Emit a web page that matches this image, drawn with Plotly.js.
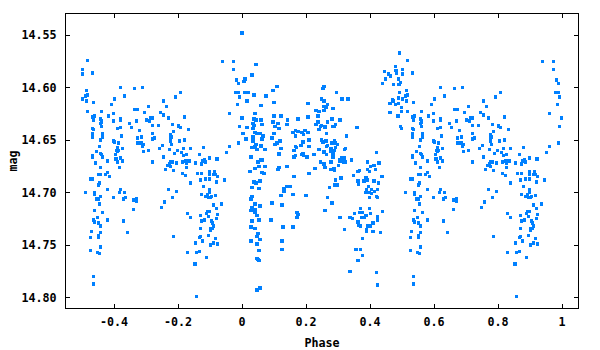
<!DOCTYPE html>
<html>
<head>
<meta charset="utf-8">
<script src="https://cdn.plot.ly/plotly-3.0.1.min.js"></script>
<style>
html,body{margin:0;padding:0;background:#fff}
#chart .point{shape-rendering:crispEdges}
</style>
</head>
<body>
<div id="chart" style="width:600px;height:350px"></div>
<script>
const phaseA=[0,.044,.009,.006,.031,.009,.015,.019,.015,.037,.075,.097,.109,.100,.059,.041,.100,.122,0,.037,.044,.059,.034,.037,.062,.097,.112,.143,.140,.103,.115,.015,.034,.041,.047,.053,.056,.003,.100,.066,.034,.012,.062,.094,.034,.044,.059,.041,.031,.037,.059,.047,.072,.103,.109,.119,.122,.115,.115,.028,.059,.062];
const magA=[14.548,14.578,14.592,14.594,14.588,14.605,14.605,14.605,14.613,14.607,14.608,14.603,14.599,14.614,14.617,14.625,14.627,14.627,14.629,14.630,14.631,14.631,14.634,14.636,14.635,14.633,14.634,14.631,14.635,14.637,14.639,14.638,14.639,14.643,14.644,14.644,14.644,14.644,14.644,14.646,14.647,14.649,14.649,14.648,14.651,14.654,14.655,14.656,14.657,14.657,14.656,14.659,14.659,14.654,14.653,14.651,14.658,14.663,14.664,14.666,14.669,14.669];

const phaseB=[.256,.253,.296,.249,.256,.312,.331,.206,.268,.256,.262,.284,.231,.240,.256,.237,.206,.175,.281,.306,.237,.268,.231,.249,.246,.259,.259,.284,.287,.293,.359,.240,.197,.168,.175,.159,.187,.206,.193,.168,.265,.327,.209,.249,.253,.262,.290,.190,.184,.209,.168,.171,.281,.293,.299,.268,.265,.293,.278,.324,.321,.240,.162,.287,.256,.256,.278,.190,.225,.265,.284,.284,.168,.162,.187,.193,.203,.312,.318,.321,.306,.312,.318,.343,.421];
const magB=[14.599,14.601,14.605,14.611,14.613,14.611,14.611,14.615,14.616,14.618,14.619,14.620,14.622,14.623,14.622,14.627,14.628,14.630,14.630,14.631,14.633,14.633,14.635,14.636,14.637,14.637,14.638,14.637,14.637,14.635,14.638,14.640,14.641,14.641,14.642,14.643,14.643,14.643,14.645,14.646,14.644,14.646,14.650,14.650,14.652,14.651,14.651,14.652,14.655,14.656,14.656,14.657,14.653,14.653,14.654,14.655,14.656,14.657,14.658,14.658,14.659,14.659,14.660,14.660,14.661,14.662,14.661,14.663,14.664,14.664,14.663,14.666,14.665,14.666,14.664,14.665,14.666,14.667,14.667,14.667,14.669,14.669,14.669,14.669,14.662];

const phaseC=[.493,.480,.446,.480,.483,.483,.458,.465,.449,.489,.440,.474,.489,.493,.496,.493,.489,.471,.474,.462,.480,.489,.499,.462,.499,.487,.496,.499];
const magC=[14.567,14.580,14.585,14.584,14.584,14.586,14.587,14.589,14.592,14.592,14.596,14.597,14.597,14.597,14.595,14.605,14.610,14.612,14.613,14.615,14.616,14.615,14.619,14.624,14.623,14.627,14.637,14.639];

const phaseD=[.050,.053,.072,.041,.025,.062,.069,.056,.037,.044,.031,.053,.028,.031,.041,.056,.031,.028,.041,.041,.047,.031,.053,.028,.041,.050,.047,.056,.028,.047,.053,.047,.050,.053,.056,.047];
const magD=[14.671,14.675,14.675,14.677,14.680,14.681,14.682,14.689,14.690,14.691,14.695,14.696,14.706,14.704,14.711,14.713,14.714,14.717,14.716,14.719,14.722,14.727,14.726,14.733,14.734,14.739,14.742,14.745,14.746,14.749,14.755,14.763,14.764,14.765,14.791,14.793];

const phaseE=[.115,.112,.140,.162,.140,.150,.131,.131,.122,.159,.094,.125,.172,.175,.172,.090,.128,.159,.125,.125,.200,.209,.228,.246,.256,.259,.278,.278,.287,.290,.302,.306,.318,.324,.274,.290,.299,.293,.309,.268,.281,.259,.306,.337,.346,.321,.349,.368,.362,.362,.365,.381,.387,.393,.412,.396,.427,.437,.393,.393,.399,.402,.412,.418,.427,.430,.390,.405,.399,.387,.415,.405,.424,.421,.424,.399,.371,.399,.440,.352,.368,.377,.402,.387,.374,.381,.424,.424,.362,.409,.365,.371,.393,.402,.390,.390,.409,.433,.377,.356,.371,.377,.362,.337,.421,.424];
const magE=[14.676,14.678,14.675,14.685,14.694,14.694,14.696,14.699,14.703,14.702,14.710,14.712,14.719,14.721,14.724,14.726,14.733,14.733,14.746,14.754,14.703,14.682,14.677,14.671,14.673,14.676,14.671,14.678,14.677,14.679,14.674,14.670,14.671,14.671,14.695,14.693,14.693,14.688,14.686,14.705,14.710,14.717,14.724,14.724,14.725,14.735,14.684,14.679,14.680,14.689,14.692,14.689,14.686,14.688,14.689,14.694,14.691,14.685,14.671,14.678,14.680,14.675,14.674,14.678,14.672,14.672,14.697,14.697,14.700,14.700,14.699,14.701,14.697,14.704,14.705,14.705,14.715,14.715,14.718,14.720,14.719,14.719,14.720,14.722,14.724,14.724,14.723,14.726,14.728,14.729,14.731,14.732,14.732,14.732,14.735,14.737,14.737,14.738,14.744,14.754,14.754,14.760,14.765,14.775,14.776,14.788];

const phaseF=[.518,.502,.502,.533,.514,.518,.511,.502,.514,.536,.518,.539,.533,.536,.558,.561,.558,.561,.561,.561,.533,.536,.533,.533,.564,.564,.564,.558,.555,.546,.533,.533,.558,.561,.564,.580,.599,.592,.602,.583,.599,.620,.633,.664,.689,.620,.620,.611,.620,.624,.599,.602,.614,.611,.614,.611,.627,.605,.608,.620,.627,.606,.649,.655,.670,.664,.673,.695,.708,.680,.673,.686,.673,.680,.686,.692,.689,.692,.708,.702,.711,.714,.720,.720,.739,.720,.727,.720,.752,.742,.755,.745,.755,.770,.764,.755,.792,.808,.783,.801,.801,.808,.820,.833,.786,.776,.776,.780,.776,.776,.780,.804,.820,.773,.798,.811,.789,.817,.839,.817,.826,.867,.879,.883,.876,.898,.920,.923,.823,.836,.951,.961,.989,.961,.998,.992,.986,.992,.979,.982,.989,.989,.982,.939,.973,.973];
const magF=[14.574,14.583,14.587,14.586,14.603,14.607,14.608,14.611,14.613,14.614,14.623,14.627,14.628,14.631,14.630,14.632,14.634,14.633,14.637,14.623,14.639,14.640,14.644,14.647,14.644,14.645,14.647,14.650,14.656,14.661,14.665,14.666,14.663,14.664,14.666,14.670,14.625,14.616,14.611,14.627,14.632,14.600,14.608,14.601,14.600,14.630,14.631,14.639,14.638,14.646,14.651,14.652,14.653,14.657,14.660,14.661,14.658,14.664,14.660,14.667,14.670,14.668,14.634,14.638,14.632,14.621,14.621,14.624,14.618,14.641,14.648,14.647,14.653,14.653,14.653,14.654,14.656,14.661,14.660,14.631,14.632,14.629,14.629,14.636,14.636,14.644,14.648,14.649,14.655,14.658,14.666,14.624,14.626,14.629,14.618,14.613,14.609,14.605,14.635,14.636,14.637,14.638,14.628,14.640,14.642,14.645,14.647,14.647,14.649,14.651,14.654,14.651,14.650,14.659,14.660,14.662,14.663,14.658,14.658,14.665,14.664,14.664,14.657,14.669,14.670,14.667,14.668,14.668,14.670,14.670,14.662,14.656,14.653,14.625,14.629,14.637,14.616,14.609,14.605,14.605,14.605,14.596,14.593,14.575,14.575,14.583];

const phaseG=[.543,.558,.580,.611,.627,.617,.720,.552,.558,.527,.533,.574,.580,.586,.555,.552,.580,.620,.617,.633,.511,.539,.539,.558,.546,.552,.599,.630,.636,.661,.670,.670,.555,.539,.564,.661,.549,.536,.539,.552,.558,.580,.630,.642,.530,.558,.527,.552,.552,.558,.527,.549,.555,.536,.536];
const magG=[14.672,14.676,14.670,14.671,14.670,14.676,14.671,14.683,14.683,14.687,14.687,14.683,14.681,14.685,14.691,14.693,14.697,14.697,14.700,14.700,14.700,14.700,14.702,14.704,14.706,14.706,14.705,14.706,14.705,14.707,14.706,14.708,14.711,14.717,14.719,14.716,14.724,14.726,14.728,14.729,14.732,14.726,14.727,14.738,14.737,14.738,14.743,14.741,14.743,14.752,14.755,14.757,14.758,14.780,14.787];

const phaseH=[.761,.767,.773,.777,.777,.783,.786,.795,.814,.826,.833,.826,.854,.873,.876,.886,.814,.823,.839,.861,.873,.870,.886,.898,.898,.898,.911,.914,.917,.923,.945,.920,.879,.898,.770,.795,.783,.758,.748,.873,.898,.886,.892,.895,.901,.904,.917,.936,.911,.920,.829,.839,.870,.889,.892,.898,.923,.895,.920,.873,.883,.904,.907,.911,.870,.901,.907,.901,.786,.867,.870,.895,.876,.917,.854,.911,.901,.923,.829,.857,.867,.889,.851,.854,.857];
const magH=[14.678,14.674,14.673,14.675,14.671,14.671,14.679,14.672,14.671,14.672,14.670,14.676,14.672,14.673,14.670,14.671,14.682,14.684,14.691,14.682,14.682,14.688,14.687,14.687,14.680,14.683,14.683,14.680,14.683,14.685,14.688,14.690,14.694,14.697,14.697,14.699,14.705,14.709,14.714,14.702,14.700,14.704,14.702,14.705,14.705,14.704,14.703,14.711,14.712,14.715,14.720,14.724,14.722,14.720,14.718,14.718,14.721,14.723,14.725,14.727,14.726,14.727,14.729,14.732,14.734,14.734,14.734,14.736,14.742,14.743,14.742,14.741,14.746,14.744,14.748,14.748,14.750,14.749,14.757,14.757,14.756,14.762,14.768,14.768,14.799];

const xTicks=[-0.4,-0.2,0,0.2,0.4,0.6,0.8,1];
const xTickLabels=["-0.4","-0.2","0","0.2","0.4","0.6","0.8","1"];
const yTicks=[14.55,14.60,14.65,14.70,14.75,14.80];
const yTickLabels=["14.55","14.60","14.65","14.70","14.75","14.80"];

const phases=[].concat(phaseA,phaseB,phaseC,phaseD,phaseE,phaseF,phaseG,phaseH);
const mags=[].concat(magA,magB,magC,magD,magE,magF,magG,magH);

// The curve is folded: phases of the second half are also shown one cycle earlier.
const x=[],y=[];
phases.forEach((p,i)=>{
  x.push(p);y.push(mags[i]);
  if(p>=0.5){x.push(p-1);y.push(mags[i]);}
});

const font={family:'"DejaVu Sans Mono",monospace',size:11.7,color:'#000',weight:'bold'};
const axis={showline:true,linecolor:'#000',linewidth:1,mirror:'ticks',ticks:'inside',ticklen:4,tickcolor:'#000',tickwidth:1,showgrid:false,zeroline:false,tickfont:font,automargin:false};

Plotly.newPlot('chart',[{
  type:'scatter',mode:'markers',x:x,y:y,
  marker:{symbol:'square',size:3.4,color:'#0080ff',line:{width:0}},
  hoverinfo:'skip'
}],{
  width:600,height:350,
  paper_bgcolor:'#fff',plot_bgcolor:'#fff',
  showlegend:false,
  margin:{l:66,r:22,t:14,b:42,pad:0},
  xaxis:Object.assign({},axis,{range:[-0.55,1.05],tickmode:'array',tickvals:xTicks,ticktext:xTickLabels,ticklabelstandoff:3,
    title:{text:'Phase',font:font,standoff:10}}),
  yaxis:Object.assign({},axis,{range:[14.81,14.53],tickmode:'array',tickvals:yTicks,ticktext:yTickLabels,ticklabelstandoff:6,
    title:{text:'mag',font:font,standoff:1}})
},{displayModeBar:false,staticPlot:true});
</script>
</body>
</html>
